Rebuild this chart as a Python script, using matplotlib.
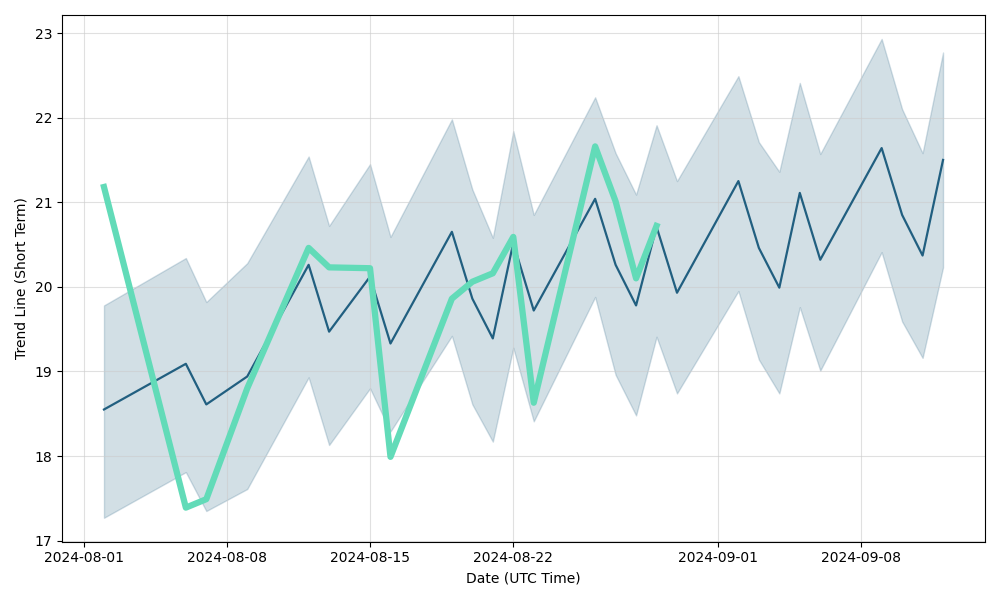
import numpy as np
import matplotlib.pyplot as plt
import matplotlib.dates as mdates
import pandas as pd

dates = pd.to_datetime([
    "2024-08-02", "2024-08-06", "2024-08-07", "2024-08-09", "2024-08-12",
    "2024-08-13", "2024-08-15", "2024-08-16", "2024-08-19", "2024-08-20",
    "2024-08-21", "2024-08-22", "2024-08-23", "2024-08-26", "2024-08-27",
    "2024-08-28", "2024-08-29", "2024-08-30", "2024-09-02", "2024-09-03",
    "2024-09-04", "2024-09-05", "2024-09-06", "2024-09-09", "2024-09-10",
    "2024-09-11", "2024-09-12",
])

trend = [18.55, 19.09, 18.61, 18.94, 20.26, 19.47, 20.12, 19.33, 20.65, 19.86,
         19.39, 20.52, 19.72, 21.04, 20.26, 19.78, 20.71, 19.93, 21.25, 20.46,
         19.99, 21.11, 20.32, 21.64, 20.85, 20.37, 21.50]

upper = [19.78, 20.34, 19.82, 20.28, 21.54, 20.72, 21.45, 20.59, 21.98, 21.15,
         20.58, 21.84, 20.85, 22.24, 21.58, 21.09, 21.91, 21.25, 22.49, 21.71,
         21.36, 22.41, 21.57, 22.93, 22.10, 21.58, 22.77]

lower = [17.27, 17.81, 17.35, 17.61, 18.93, 18.13, 18.80, 18.29, 19.42, 18.61,
         18.17, 19.28, 18.41, 19.88, 18.96, 18.48, 19.41, 18.74, 19.95, 19.14,
         18.74, 19.76, 19.01, 20.41, 19.59, 19.16, 20.23]

# actual price, only available up to 2024-08-29
actual = [21.18, 17.39, 17.49, 18.80, 20.46, 20.23, 20.22, 17.99, 19.86, 20.06,
          20.16, 20.59, 18.63, 21.66, 21.01, 20.10, 20.72]

dark = "#215f80"
green = "#62dbb8"

fig, ax = plt.subplots(figsize=(10, 6))
ax.fill_between(dates, lower, upper, color=dark, alpha=0.2)
ax.plot(dates, trend, color=dark, linewidth=1.6)
ax.plot(dates[:len(actual)], actual, color=green, linewidth=4.5)
ax.grid(True, color="#cccccc", alpha=0.6)
ax.xaxis.set_major_formatter(mdates.DateFormatter("%Y-%m-%d"))
ax.set_xlabel("Date (UTC Time)")
ax.set_ylabel("Trend Line (Short Term)")
plt.tight_layout()
fig.savefig("out.png", dpi=100)
